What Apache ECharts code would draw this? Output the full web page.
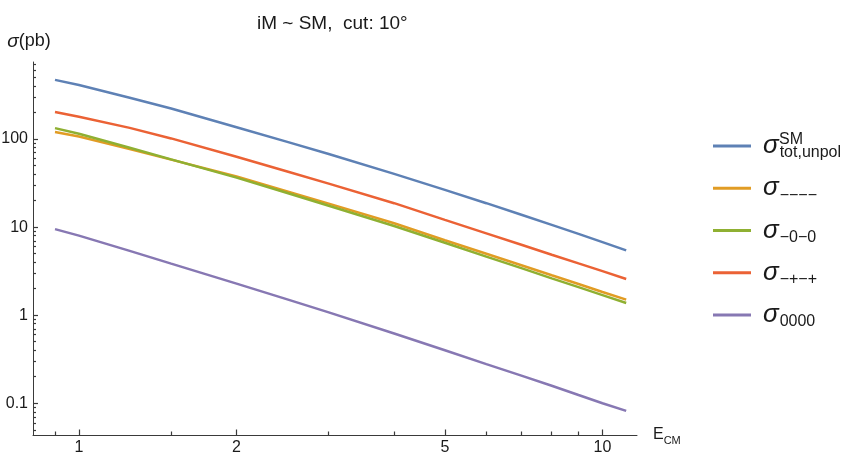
<!DOCTYPE html>
<html>
<head>
<meta charset="utf-8">
<title>iM ~ SM, cut: 10°</title>
<script src="https://cdn.jsdelivr.net/npm/echarts@6.0.0/dist/echarts.min.js"></script>
<style>
  html, body { margin: 0; padding: 0; background: #fff; }
  #chart { width: 864px; height: 459px; }
</style>
</head>
<body>
<div id="chart"></div>
<script>
// centre-of-mass energy grid (the x values the curves were read at)
const energy = [0.9, 1, 1.25, 1.5, 2, 2.5, 3, 4, 5, 6, 7, 8, 9, 10, 11.1]

// cross sections in pb
const sigmaTot   = [470, 411, 295, 222, 136, 93.0, 67.6, 40.2, 26.5, 18.7, 13.8, 10.6, 8.37, 6.75, 5.44]
const sigmaMMMM  = [120, 107, 76.9, 58.4, 37.5, 25.4, 18.5, 11.07, 7.1, 4.98, 3.69, 2.84, 2.26, 1.835, 1.50]
const sigmaM0M0  = [133, 115, 79.6, 58.8, 36.5, 24.4, 17.5, 10.3, 6.65, 4.63, 3.42, 2.62, 2.08, 1.69, 1.376]
const sigmaMPMP  = [203, 179, 134, 101.7, 63, 42.8, 31.2, 18.7, 12.1, 8.5, 6.3, 4.86, 3.87, 3.16, 2.58]
const sigma0000  = [9.5, 8.0, 5.38, 3.85, 2.28, 1.51, 1.077, 0.62, 0.40, 0.278, 0.206, 0.158, 0.124, 0.100, 0.082]

// ticks
const xMajorTicks = [1, 2, 5, 10]
const xMinorTicks = [0.9, 1.5, 3, 4, 6, 7, 8, 9]
const yMajorTicks = [0.1, 1, 10, 100]
const yMinorTicks = [
  0.05, 0.06, 0.07, 0.08, 0.09,
  0.2, 0.3, 0.4, 0.5, 0.6, 0.7, 0.8, 0.9,
  2, 3, 4, 5, 6, 7, 8, 9,
  20, 30, 40, 50, 60, 70, 80, 90,
  200, 300, 400, 500, 600, 700,
]

const seriesDefs = [
  { name: 'tot,unpol', sub: 'tot,unpol', color: '#5e81b5', values: sigmaTot },
  { name: '----', sub: '−−−−', color: '#e19c24', values: sigmaMMMM },
  { name: '-0-0', sub: '−0−0', color: '#8fb032', values: sigmaM0M0 },
  { name: '-+-+', sub: '−+−+', color: '#eb6235', values: sigmaMPMP },
  { name: '0000', sub: '0000', color: '#8778b3', values: sigma0000 },
]

const FONT = 'Liberation Sans, Arial, sans-serif'
const AXIS_COLOR = '#3a3a3a'
const LABEL_COLOR = '#1a1a1a'
const X_MIN = 0.817, X_MAX = 11.64
const Y_MIN = 0.0436, Y_MAX = 750

const fmt = v => String(+(+v).toPrecision(6))

// log axis; showLine=false gives a second axis used only for the minor ticks
function logAxis(min, max, position, ticks, tickLen, showLine) {
  return {
    type: 'log',
    logBase: 10,
    min, max, position,
    axisLine: { show: showLine, lineStyle: { color: AXIS_COLOR, width: 1 } },
    axisTick: {
      show: true, inside: true, length: tickLen, customValues: ticks,
      lineStyle: { color: AXIS_COLOR, width: 1.2 },
    },
    axisLabel: { show: false },
    splitLine: { show: false },
    minorTick: { show: false },
    minorSplitLine: { show: false },
  }
}

const subOf = {}
seriesDefs.forEach(d => { subOf[d.name] = d.sub })

const series = seriesDefs.map(d => ({
  name: d.name,
  type: 'line',
  data: energy.map((e, i) => [e, d.values[i]]),
  showSymbol: false,
  symbol: 'none',
  lineStyle: { color: d.color, width: 2.5 },
  itemStyle: { color: d.color },
  xAxisIndex: 0,
  yAxisIndex: 0,
}))

const xMain = logAxis(X_MIN, X_MAX, 'bottom', xMajorTicks, 5.5, true)
Object.assign(xMain, {
  name: '{e|E}{c|CM}',
  nameLocation: 'end',
  nameGap: 16,
  nameTextStyle: {
    align: 'left', verticalAlign: 'middle',
    rich: {
      e: { fontFamily: FONT, fontSize: 16, lineHeight: 22, color: LABEL_COLOR },
      c: { fontFamily: FONT, fontSize: 11, lineHeight: 14, verticalAlign: 'bottom', color: LABEL_COLOR },
    },
  },
  axisLabel: { show: true, margin: 5, customValues: xMajorTicks, formatter: fmt, fontSize: 16, fontFamily: FONT, color: LABEL_COLOR },
})

const yMain = logAxis(Y_MIN, Y_MAX, 'left', yMajorTicks, 5, true)
Object.assign(yMain, {
  name: '{i|σ}(pb)',
  nameLocation: 'end',
  nameGap: 11,
  nameTextStyle: {
    align: 'center', verticalAlign: 'bottom',
    padding: [0, 8, 0, 0],
    fontFamily: FONT, fontSize: 18, color: LABEL_COLOR,
    rich: {
      i: { fontFamily: FONT, fontSize: 19, fontStyle: 'italic', color: LABEL_COLOR },
    },
  },
  axisLabel: { show: true, margin: 5, customValues: yMajorTicks, formatter: fmt, fontSize: 16, fontFamily: FONT, color: LABEL_COLOR },
})

const chart = echarts.init(document.getElementById('chart'), null, { renderer: 'canvas' })

chart.setOption({
  backgroundColor: '#fff',
  animation: false,
  textStyle: { fontFamily: FONT },
  title: {
    text: 'iM ~ SM,  cut: 10°',
    left: 252, top: 9,
    textStyle: { fontFamily: FONT, fontSize: 19, fontWeight: 'normal', color: LABEL_COLOR },
  },
  grid: { left: 33, right: 227, top: 62, bottom: 24, containLabel: false, outerBoundsMode: 'none' },
  legend: {
    orient: 'vertical',
    left: 713, top: 133,
    padding: 0,
    itemGap: 14.25,
    itemWidth: 38,
    itemHeight: 3,
    icon: 'rect',
    selectedMode: false,
    data: seriesDefs.map(d => d.name),
    formatter: name => `{s|σ}{b|${subOf[name]}}`,
    textStyle: {
      color: LABEL_COLOR,
      rich: {
        s: { fontFamily: FONT, fontSize: 26, fontStyle: 'italic', lineHeight: 30, padding: [0, 1, 0, 7], color: LABEL_COLOR },
        b: { fontFamily: FONT, fontSize: 16, lineHeight: 16, verticalAlign: 'bottom', color: LABEL_COLOR },
      },
    },
  },
  graphic: [
    {
      type: 'text', left: 779, top: 132, silent: true,
      style: { text: 'SM', font: `16px ${FONT}`, fill: LABEL_COLOR },
    },
  ],
  xAxis: [xMain, logAxis(X_MIN, X_MAX, 'bottom', xMinorTicks, 3.5, false)],
  yAxis: [yMain, logAxis(Y_MIN, Y_MAX, 'left', yMinorTicks, 3, false)],
  series,
})
</script>
</body>
</html>
